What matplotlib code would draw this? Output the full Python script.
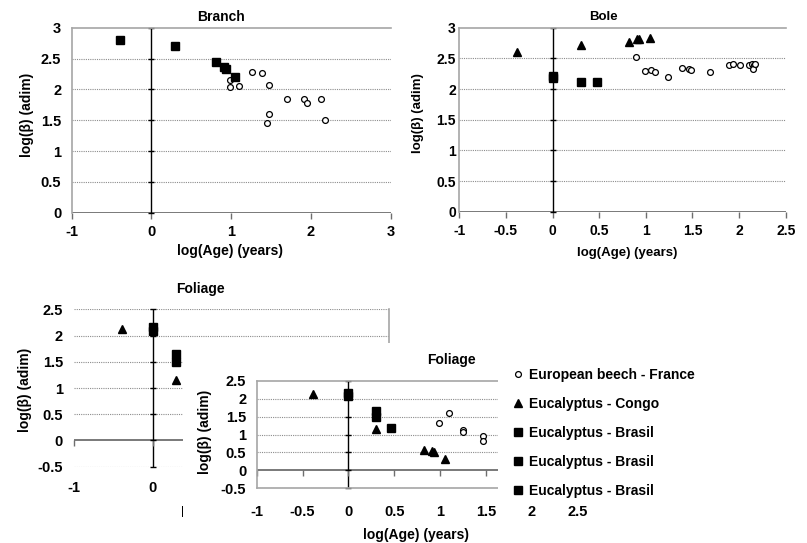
import matplotlib
matplotlib.use("Agg")
import matplotlib.pyplot as plt
from matplotlib.lines import Line2D
from matplotlib.patches import Rectangle

plt.rcParams['font.family'] = ['Liberation Sans', 'DejaVu Sans']
plt.rcParams['font.weight'] = 'bold'
plt.rcParams['axes.labelweight'] = 'bold'
plt.rcParams['axes.titleweight'] = 'bold'
plt.rcParams['font.size'] = 10

W, H = 807, 543

# ---- data (log(Age), log(beta)) ----
branch_beech_x = [0.99, 0.99, 1.10, 1.26, 1.39, 1.48, 1.48, 1.45, 1.70, 1.91, 1.95, 2.13, 2.18]
branch_beech_y = [2.16, 2.04, 2.06, 2.28, 2.27, 2.08, 1.61, 1.45, 1.85, 1.84, 1.78, 1.84, 1.50]
branch_brasil_x = [-0.39, 0.29, 0.81, 0.91, 0.93, 1.05]
branch_brasil_y = [2.80, 2.70, 2.45, 2.37, 2.34, 2.21]

bole_beech_x = [0.89, 0.99, 1.06, 1.10, 1.24, 1.39, 1.46, 1.48, 1.69, 1.89, 1.93, 2.01, 2.11,
                2.14, 2.16, 2.15, 2.17]
bole_beech_y = [2.52, 2.30, 2.31, 2.28, 2.20, 2.34, 2.32, 2.31, 2.28, 2.39, 2.41, 2.39, 2.39,
                2.40, 2.39, 2.33, 2.40]
bole_congo_x = [-0.38, 0.30, 0.82, 0.91, 0.93, 1.05]
bole_congo_y = [2.60, 2.71, 2.77, 2.82, 2.82, 2.83]
bole_brasil_x = [0.0, 0.0, 0.30, 0.48]
bole_brasil_y = [2.21, 2.18, 2.11, 2.11]

foliage_beech_x = [0.99, 1.10, 1.25, 1.25, 1.47, 1.47]
foliage_beech_y = [1.31, 1.61, 1.12, 1.08, 0.95, 0.83]
foliage_congo_x = [-0.39, 0.30, 0.82, 0.91, 0.93, 1.05]
foliage_congo_y = [2.12, 1.16, 0.58, 0.54, 0.51, 0.32]
foliage_brasil_x = [0.0, 0.0, 0.30, 0.30, 0.47]
foliage_brasil_y = [2.16, 2.08, 1.65, 1.49, 1.19]

legend_labels = ["European beech - France", "Eucalyptus - Congo",
                 "Eucalyptus - Brasil", "Eucalyptus - Brasil", "Eucalyptus - Brasil"]
legend_markers = ["o", "^", "s", "s", "s"]

GRID = '#8c8c8c'
BORDER = '#a6a6a6'
AXIS = '#6e6e6e'


def box(x0, y0, x1, y1):
    return [x0 / W, 1 - y1 / H, (x1 - x0) / W, (y1 - y0) / H]


def pt(x, y):
    return (x / W, 1 - y / H)


def style(ax, xticks, yticks, xpad, ypad, top_grid=False, fs=10.5):
    ax.set_xlim(xticks[0], xticks[-1])
    ax.set_ylim(yticks[0], yticks[-1])
    ax.set_xticks(xticks)
    ax.set_yticks(yticks)
    ax.set_xticklabels([f"{t:g}" for t in xticks])
    ax.set_yticklabels([f"{t:g}" for t in yticks])
    for s in ax.spines.values():
        s.set_visible(False)
        s.set_color(BORDER)
        s.set_linewidth(1.2)
    ax.tick_params(axis='x', length=0, pad=xpad, labelsize=fs)
    ax.tick_params(axis='y', length=0, pad=ypad, labelsize=fs)
    ax.patch.set_facecolor('white')
    for y in yticks:
        if y == 0:
            continue
        if y == yticks[-1] and not top_grid:
            continue
        ax.axhline(y, color=GRID, lw=0.8, ls=(0, (1, 1)), zorder=1)
    ax.axhline(0, color=AXIS, lw=1.3, zorder=2)
    ax.axvline(0, color='black', lw=1.0, zorder=2)
    ax.plot(xticks, [0] * len(xticks), ls='none', marker=3, ms=4, mew=1,
            color=AXIS, clip_on=False, zorder=2)
    ax.plot([0] * len(yticks), yticks, ls='none', marker='_', ms=4.5, mew=1,
            color='black', clip_on=False, zorder=2)


def scatter(ax, x, y, kind):
    if kind == 'o':
        ax.plot(x, y, ls='none', marker='o', ms=4.2, mfc='white', mec='black',
                mew=0.9, zorder=4, clip_on=False)
    elif kind == '^':
        ax.plot(x, y, ls='none', marker='^', ms=6, color='black', zorder=4, clip_on=False)
    else:
        ax.plot(x, y, ls='none', marker='s', ms=5.3, color='black', zorder=4, clip_on=False)


fig = plt.figure(figsize=(W / 100, H / 100), dpi=100)
fig.patch.set_facecolor('white')

# ---- Branch ----
ax1 = fig.add_axes(box(71.7, 27.9, 390.7, 212.7))
style(ax1, [-1, 0, 1, 2, 3], [0, 0.5, 1, 1.5, 2, 2.5, 3], xpad=9, ypad=7.5)
ax1.spines['left'].set_visible(True)
ax1.spines['top'].set_visible(True)
scatter(ax1, branch_beech_x, branch_beech_y, 'o')
scatter(ax1, branch_brasil_x, branch_brasil_y, 's')
fig.text(*pt(221, 17), "Branch", ha='center', va='center', fontsize=10)
fig.text(*pt(27, 115), "log(β) (adim)", ha='center', va='center', rotation=90, fontsize=10)
fig.text(*pt(230, 251), "log(Age) (years)", ha='center', va='center', fontsize=10)

# ---- Bole ----
ax2 = fig.add_axes(box(459.3, 27.7, 785.7, 211.7))
style(ax2, [-1, -0.5, 0, 0.5, 1, 1.5, 2, 2.5], [0, 0.5, 1, 1.5, 2, 2.5, 3],
      xpad=9, ypad=2.5, fs=10)
ax2.spines['left'].set_visible(True)
ax2.spines['top'].set_visible(True)
scatter(ax2, bole_beech_x, bole_beech_y, 'o')
scatter(ax2, bole_congo_x, bole_congo_y, '^')
scatter(ax2, bole_brasil_x, bole_brasil_y, 's')
fig.text(*pt(603, 17), "Bole", ha='center', va='center', fontsize=9.5)
fig.text(*pt(418, 113), "log(β) (adim)", ha='center', va='center', rotation=90, fontsize=9.5)
fig.text(*pt(627, 253), "log(Age) (years)", ha='center', va='center', fontsize=9.5)

# ---- Foliage (back, partly hidden) ----
ax3 = fig.add_axes(box(74, 309.3, 389, 466.7))
ax3.set_zorder(1)
style(ax3, [-1, 0, 1, 2, 3], [-0.5, 0, 0.5, 1, 1.5, 2, 2.5], xpad=10, ypad=8,
      top_grid=True)
ax3.spines['right'].set_visible(True)
scatter(ax3, foliage_beech_x, foliage_beech_y, 'o')
scatter(ax3, foliage_congo_x, foliage_congo_y, '^')
scatter(ax3, foliage_brasil_x, foliage_brasil_y, 's')
ax3.set_title("Foliage", fontsize=10, x=(200 - 74) / 315, pad=12)
ax3.set_ylabel("log(β) (adim)", fontsize=10, va='center')
ax3.yaxis.set_label_coords(*pt(25, 390), transform=fig.transFigure)
ax3.set_xlabel("log(Age) (years)", fontsize=10, va='center')
ax3.xaxis.set_label_coords(*pt(234, 513), transform=fig.transFigure)

# white chart area of the front chart hides the back one
cover = Rectangle(pt(183, 543), (W - 183) / W, (543 - 343) / H,
                  transform=fig.transFigure, facecolor='white', edgecolor='none', zorder=2)
fig.patches.append(cover)

# ---- Foliage (front) ----
ax4 = fig.add_axes(box(256.7, 380.7, 577.6, 488.3))
ax4.set_zorder(3)
style(ax4, [-1, -0.5, 0, 0.5, 1, 1.5, 2, 2.5], [-0.5, 0, 0.5, 1, 1.5, 2, 2.5],
      xpad=12, ypad=7.5)
for side in ['left', 'top', 'bottom']:
    ax4.spines[side].set_visible(True)
scatter(ax4, foliage_beech_x, foliage_beech_y, 'o')
scatter(ax4, foliage_congo_x, foliage_congo_y, '^')
scatter(ax4, foliage_brasil_x, foliage_brasil_y, 's')
ax4.set_title("Foliage", fontsize=10, x=(451 - 256.7) / 320.9, pad=12)
ax4.set_ylabel("log(β) (adim)", fontsize=10, va='center')
ax4.yaxis.set_label_coords(*pt(205, 432), transform=fig.transFigure)
ax4.set_xlabel("log(Age) (years)", fontsize=10, va='center')
ax4.xaxis.set_label_coords(*pt(416, 535), transform=fig.transFigure)

# legend box (white, covers the right part of the front plot)
lbox = Rectangle(pt(498, 505), (W - 498) / W, (505 - 358) / H,
                 transform=fig.transFigure, facecolor='white', edgecolor='none', zorder=4)
fig.patches.append(lbox)

handles = []
for m in legend_markers:
    if m == 'o':
        handles.append(Line2D([], [], ls='none', marker='o', ms=4.2, mfc='white',
                              mec='black', mew=0.9))
    elif m == '^':
        handles.append(Line2D([], [], ls='none', marker='^', ms=6, color='black'))
    else:
        handles.append(Line2D([], [], ls='none', marker='s', ms=5.3, color='black'))
leg = fig.legend(handles, legend_labels, loc='upper left', bbox_to_anchor=pt(512, 368),
                 frameon=False, fontsize=10, handlelength=0.8, handletextpad=0.45,
                 borderpad=0, borderaxespad=0, labelspacing=1.08)
leg.set_zorder(5)

fig.savefig("out.png", dpi=100, facecolor='white')
